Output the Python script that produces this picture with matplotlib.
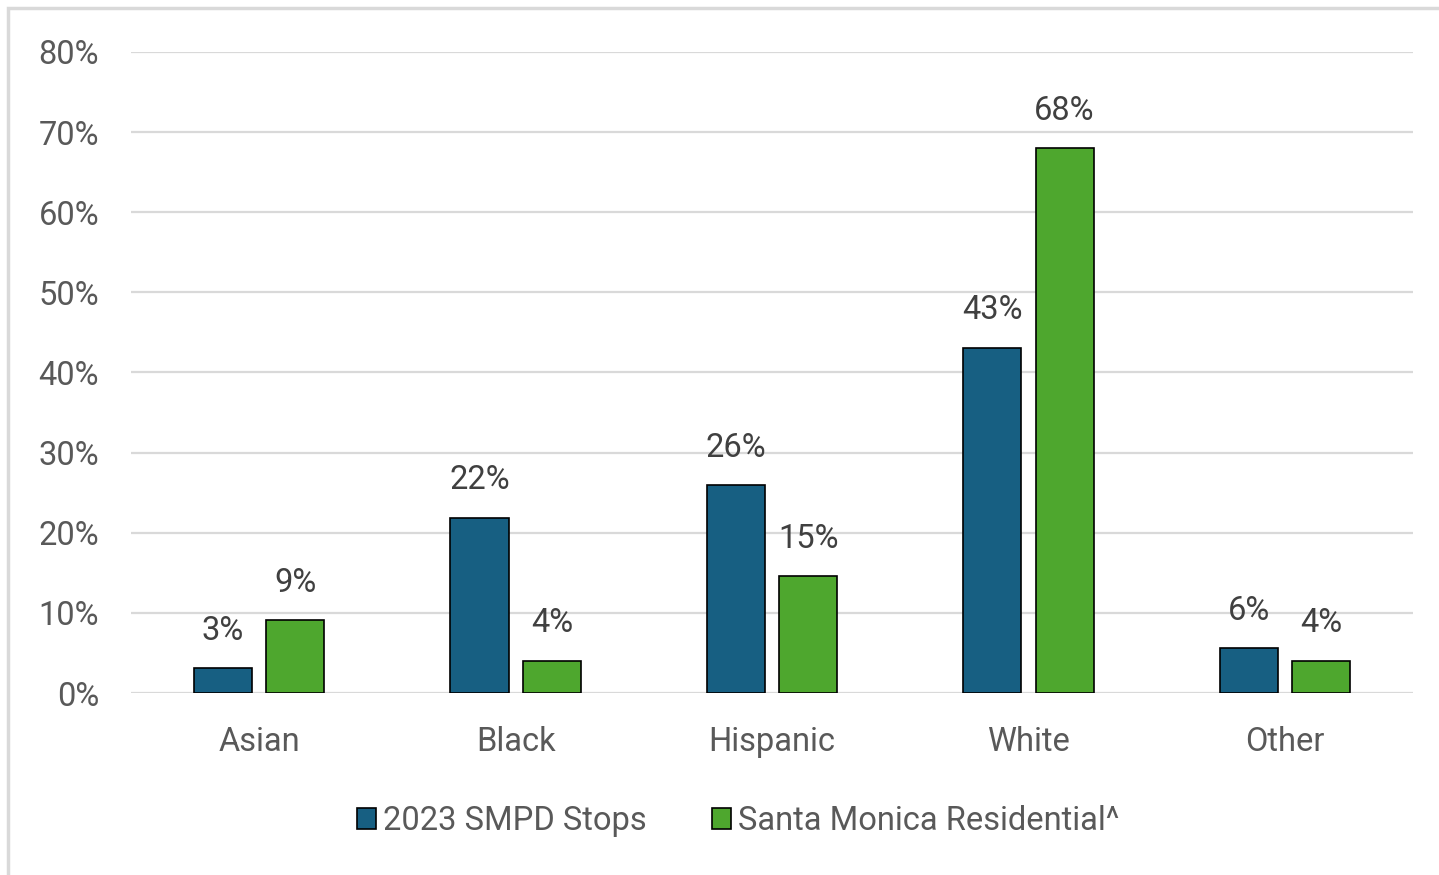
import matplotlib.pyplot as plt
import numpy as np
from matplotlib.patches import Rectangle

categories = ['Asian', 'Black', 'Hispanic', 'White', 'Other']
smpd_stops = [3.1, 21.9, 25.9, 43.1, 5.6]
sm_residential = [9.1, 4.0, 14.6, 68.0, 4.0]
series_names = ['2023 SMPD Stops', 'Santa Monica Residential^']

blue = '#175F82'
green = '#4EA72E'

plt.rcParams['font.family'] = ['Roboto', 'DejaVu Sans']

fig = plt.figure(figsize=(14.39, 8.75), dpi=100)
ax = fig.add_axes([0.091, 0.208, 0.891, 0.7326])

x = np.arange(len(categories))
w = 0.227
off = 0.141
b1 = ax.bar(x - off, smpd_stops, w, color=blue, edgecolor='black', linewidth=1.2,
            label=series_names[0], zorder=3)
b2 = ax.bar(x + off, sm_residential, w, color=green, edgecolor='black', linewidth=1.2,
            label=series_names[1], zorder=3)

for bars, vals in ((b1, smpd_stops), (b2, sm_residential)):
    for rect, v in zip(bars, vals):
        ax.annotate(f'{round(v):d}%', (rect.get_x() + rect.get_width() / 2, v),
                    xytext=(0, 27), textcoords='offset points',
                    ha='center', va='center', fontsize=23.5, color='#404040')

ax.set_xlim(-0.5, len(categories) - 0.5)
ax.set_ylim(0, 80)
ax.set_yticks(np.arange(0, 81, 10))
ax.set_yticklabels([f'{t}%' for t in range(0, 81, 10)])
ax.set_xticks(x)
ax.set_xticklabels(categories)
ax.tick_params(axis='both', length=0, labelsize=23.5, labelcolor='#595959')
ax.tick_params(axis='y', pad=23)
ax.tick_params(axis='x', pad=24)
ax.grid(axis='y', color='#d9d9d9', linewidth=1.6, zorder=0)
for s in ax.spines.values():
    s.set_visible(False)

leg = ax.legend(loc='center', bbox_to_anchor=(0.4735, -0.2), ncol=2, frameon=False,
                fontsize=23.5, handlelength=0.6, handleheight=0.6, handletextpad=0.2,
                columnspacing=2.0, labelcolor='#595959')

fig.patches.append(Rectangle((8 / 1439, -0.1), 1.2, 1 - 8 / 875 + 0.1,
                             transform=fig.transFigure, fill=False,
                             edgecolor='#d9d9d9', linewidth=2.5))

fig.savefig('out.png', dpi=100)
